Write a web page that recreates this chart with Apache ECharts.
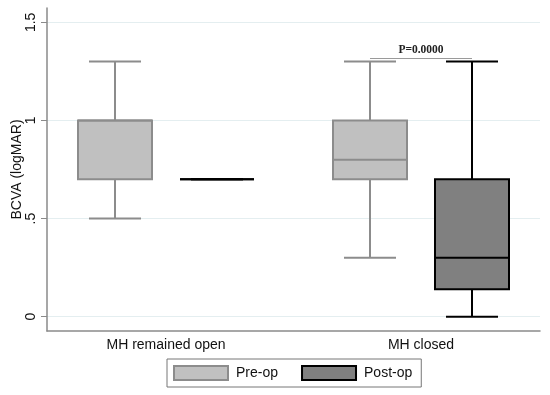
<!DOCTYPE html>
<html><head><meta charset="utf-8">
<script src="https://cdn.jsdelivr.net/npm/echarts@6/dist/echarts.min.js"></script>
<style>html,body{margin:0;padding:0;background:#fff}#c{width:550px;height:395px}</style>
</head><body><div id="c"></div>
<script>
const categories = ["MH remained open", "MH closed"];
// each entry: [min, Q1, median, Q3, max]
const preOp = [[0.5, 0.7, 1.0, 1.0, 1.3], [0.3, 0.7, 0.8, 1.0, 1.3]];
const postOp = [[0.7, 0.7, 0.7, 0.7, 0.7], [0.0, 0.14, 0.3, 0.7, 1.3]];
const yTicks = [0, 0.5, 1, 1.5];
const yTickLabels = ["0", ".5", "1", "1.5"];
const pAnnotation = { category: 1, y: 1.318, text: "P=0.0000" };

const FONT = "Liberation Sans, Arial, sans-serif";
const OFFSET = 51, BOXW = 74, CAPW = 52;

function toData(arr) { return arr.map((v, i) => [i + 1].concat(v)); }

function boxRenderer(offset, fill, stroke) {
  return function (params, api) {
    const x = api.value(0);
    const cx = Math.round(api.coord([x, 0])[0] + offset);
    const y = k => api.coord([x, api.value(k)])[1];
    const yMin = y(1), yQ1 = y(2), yMed = y(3), yQ3 = y(4), yMax = y(5);
    const ls = { stroke: stroke, lineWidth: 2 };
    return {
      type: 'group',
      children: [
        { type: 'line', shape: { x1: cx, y1: yMax, x2: cx, y2: yQ3 }, style: ls },
        { type: 'line', shape: { x1: cx, y1: yQ1, x2: cx, y2: yMin }, style: ls },
        { type: 'rect', shape: { x: cx - BOXW / 2, y: yQ3, width: BOXW, height: yQ1 - yQ3 }, style: { fill: fill, stroke: stroke, lineWidth: 2 } },
        { type: 'line', shape: { x1: cx - BOXW / 2, y1: yMed, x2: cx + BOXW / 2, y2: yMed }, style: ls },
        { type: 'line', shape: { x1: cx - CAPW / 2, y1: yMax, x2: cx + CAPW / 2, y2: yMax }, style: ls },
        { type: 'line', shape: { x1: cx - CAPW / 2, y1: yMin, x2: cx + CAPW / 2, y2: yMin }, style: ls }
      ]
    };
  };
}

const chart = echarts.init(document.getElementById('c'), null, { renderer: 'canvas' });
chart.setOption({
  animation: false,
  backgroundColor: '#fff',
  textStyle: { fontFamily: FONT },
  grid: { left: 47, right: 10, top: 8, bottom: 64, containLabel: false, outerBoundsMode: 'none' },
  xAxis: {
    type: 'value', min: 0.5333, max: 2.4667,
    axisLine: { show: true, onZero: false, lineStyle: { color: '#8a8a8a', width: 1.5 } },
    axisTick: { show: false },
    splitLine: { show: false },
    axisLabel: {
      customValues: [1, 2],
      formatter: v => categories[Math.round(v) - 1] || '',
      fontSize: 14, color: '#111', margin: 7, fontFamily: FONT
    }
  },
  yAxis: {
    type: 'value', min: -0.073, max: 1.573,
    name: 'BCVA (logMAR)', nameLocation: 'middle', nameGap: 23, nameMoveOverlap: false,
    nameTextStyle: { fontSize: 14, color: '#111', fontFamily: FONT },
    axisLine: { show: true, onZero: false, lineStyle: { color: '#8a8a8a', width: 1.5 } },
    axisTick: { show: true, customValues: yTicks, length: 6, lineStyle: { color: '#8a8a8a', width: 1 } },
    splitLine: { show: true, lineStyle: { color: '#e4eef0', width: 1 } },
    axisLabel: {
      customValues: yTicks, rotate: 90, margin: 9,
      formatter: v => { const i = yTicks.findIndex(t => Math.abs(t - v) < 1e-6); return i >= 0 ? yTickLabels[i] : ''; },
      fontSize: 14, color: '#111', fontFamily: FONT
    }
  },
  legend: {
    left: 167, top: 359,
    orient: 'horizontal',
    borderColor: '#777', borderWidth: 1, borderRadius: 0,
    padding: [6, 9, 6, 6],
    itemWidth: 54, itemHeight: 14, itemGap: 23,
    textStyle: { fontSize: 14, color: '#111', fontFamily: FONT, padding: [0, 0, 0, 3] },
    data: [
      { name: 'Pre-op', icon: 'rect', itemStyle: { color: '#c0c0c0', borderColor: '#8c8c8c', borderWidth: 2 } },
      { name: 'Post-op', icon: 'rect', itemStyle: { color: '#808080', borderColor: '#000', borderWidth: 2 } }
    ]
  },
  series: [
    {
      name: 'Pre-op', type: 'custom', data: toData(preOp),
      encode: { x: 0, y: [1, 2, 3, 4, 5] },
      itemStyle: { color: '#c0c0c0' },
      renderItem: boxRenderer(-OFFSET, '#c0c0c0', '#8c8c8c')
    },
    {
      name: 'Post-op', type: 'custom', data: toData(postOp),
      encode: { x: 0, y: [1, 2, 3, 4, 5] },
      itemStyle: { color: '#808080' },
      renderItem: boxRenderer(OFFSET, '#808080', '#000')
    },
    {
      name: 'annotation', type: 'custom', data: [[pAnnotation.category + 1, pAnnotation.y]],
      encode: { x: 0, y: 1 }, silent: true,
      renderItem: function (params, api) {
        const p = api.coord([api.value(0), api.value(1)]);
        const yy = Math.round(p[1]) + 0.5;
        return {
          type: 'group', children: [
            { type: 'line', shape: { x1: p[0] - OFFSET, y1: yy, x2: p[0] + OFFSET, y2: yy }, style: { stroke: '#9a9a9a', lineWidth: 1 } },
            { type: 'text', x: p[0], y: yy - 2, style: { text: pAnnotation.text, fill: '#222', font: 'bold 11.5px "Liberation Serif", "Times New Roman", serif', align: 'center', verticalAlign: 'bottom' } }
          ]
        };
      }
    }
  ]
});
</script></body></html>
